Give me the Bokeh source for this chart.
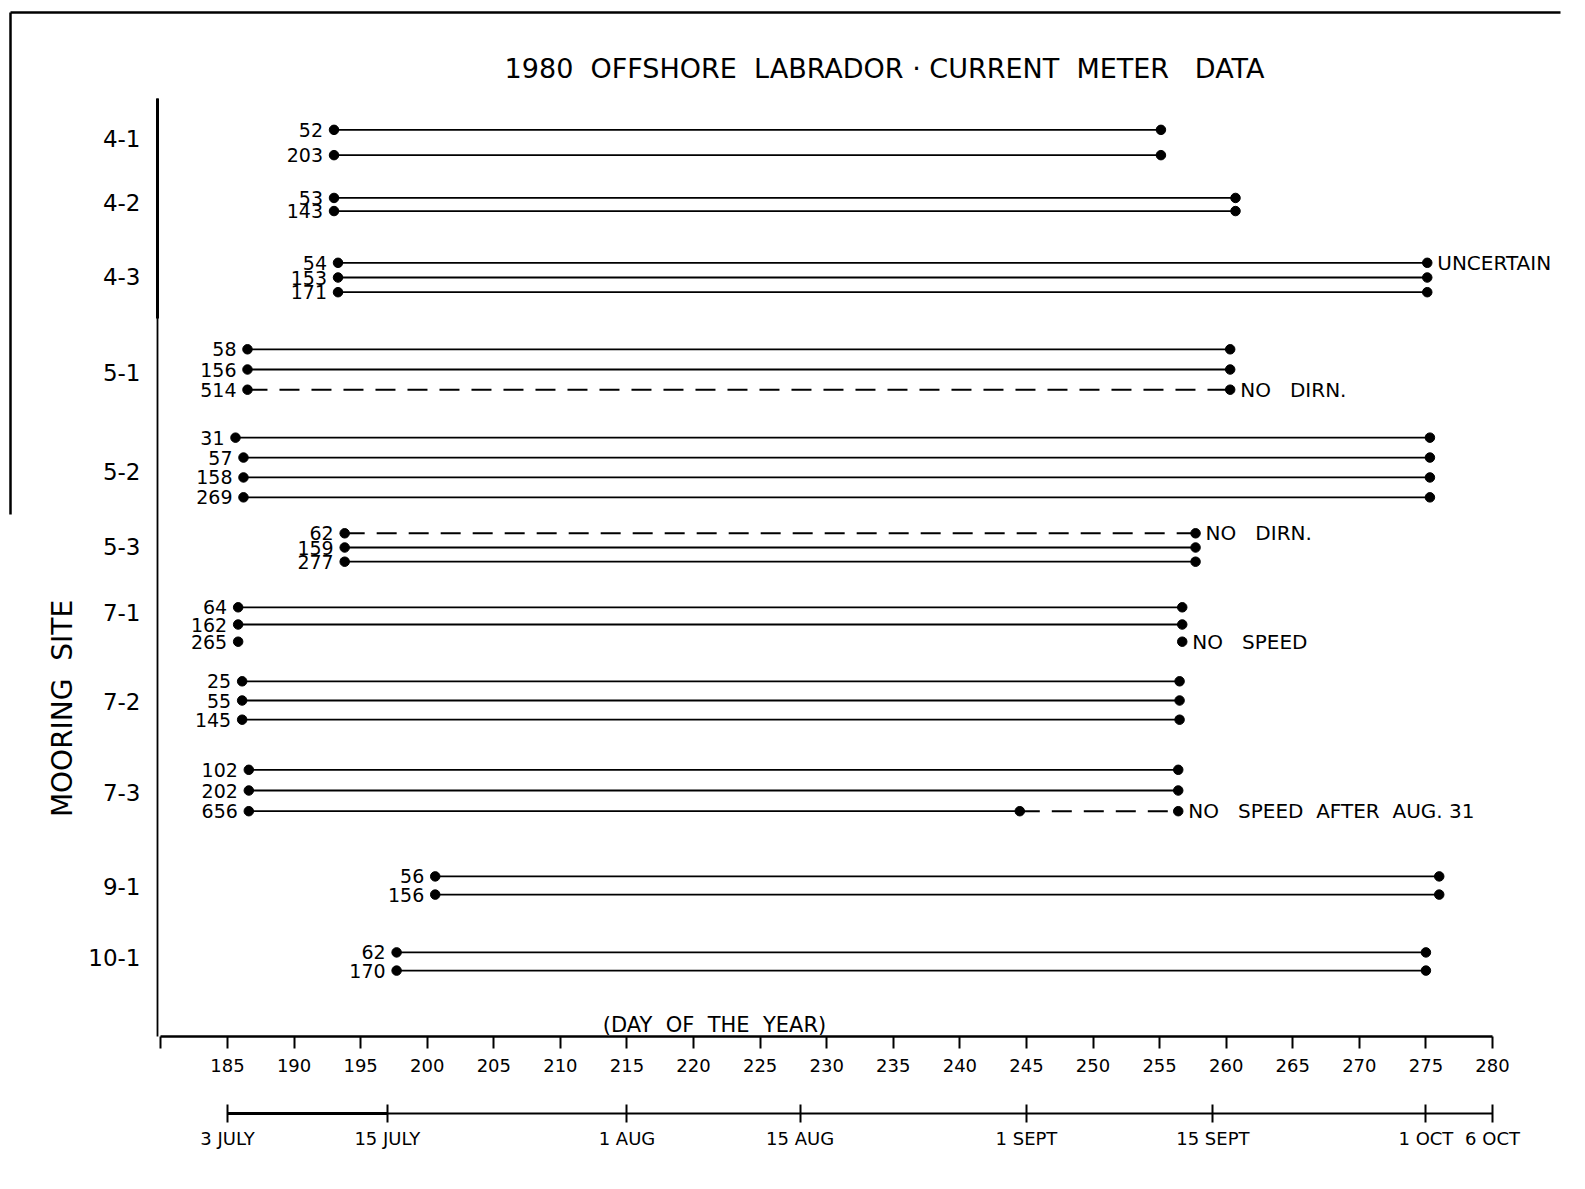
from bokeh.plotting import figure
from bokeh.models import Range1d, LinearAxis, FixedTicker, ColumnDataSource
from bokeh.embed import file_html
from bokeh.resources import INLINE
from bokeh.core.properties import value
import math

# ---------------- data ----------------
sites = ["4-1", "4-2", "4-3", "5-1", "5-2", "5-3", "7-1", "7-2", "7-3", "9-1", "10-1"]

inst_site = ["4-1", "4-1",
             "4-2", "4-2",
             "4-3", "4-3", "4-3",
             "5-1", "5-1", "5-1",
             "5-2", "5-2", "5-2", "5-2",
             "5-3", "5-3", "5-3",
             "7-1", "7-1", "7-1",
             "7-2", "7-2", "7-2",
             "7-3", "7-3", "7-3",
             "9-1", "9-1",
             "10-1", "10-1"]
depth = [52, 203,
         53, 143,
         54, 153, 171,
         58, 156, 514,
         31, 57, 158, 269,
         62, 159, 277,
         64, 162, 265,
         25, 55, 145,
         102, 202, 656,
         56, 156,
         62, 170]
start_day = [193.0, 193.0,
             193.0, 193.0,
             193.3, 193.3, 193.3,
             186.5, 186.5, 186.5,
             185.6, 186.2, 186.2, 186.2,
             193.8, 193.8, 193.8,
             185.8, 185.8, 185.8,
             186.1, 186.1, 186.1,
             186.6, 186.6, 186.6,
             200.6, 200.6,
             197.7, 197.7]
end_day = [255.1, 255.1,
           260.7, 260.7,
           275.1, 275.1, 275.1,
           260.3, 260.3, 260.3,
           275.3, 275.3, 275.3, 275.3,
           257.7, 257.7, 257.7,
           256.7, 256.7, 256.7,
           256.5, 256.5, 256.5,
           256.4, 256.4, 256.4,
           276.0, 276.0,
           275.0, 275.0]
# record quality: full, uncertain, no_dirn (dashed), no_speed (no line), partial (speed lost)
record = ["full", "full",
          "full", "full",
          "uncertain", "full", "full",
          "full", "full", "no_dirn",
          "full", "full", "full", "full",
          "no_dirn", "full", "full",
          "full", "full", "no_speed",
          "full", "full", "full",
          "full", "full", "partial",
          "full", "full",
          "full", "full"]
speed_lost_day = 244.5   # 656 m on 7-3: no speed after Aug. 31

day_ticks = list(range(180, 281, 5))
date_ticks = [185, 197, 215, 228, 245, 259, 275, 280]
date_labels = ["3 JULY", "15 JULY", "1 AUG", "15 AUG", "1 SEPT", "15 SEPT", "1 OCT", "6 OCT"]
NB = "\u00a0 "
NB2 = "\u00a0\u00a0 "
notes = {"uncertain": "UNCERTAIN", "no_dirn": "NO" + NB2 + "DIRN.", "no_speed": "NO" + NB2 + "SPEED",
         "partial": "NO" + NB2 + "SPEED" + NB + "AFTER" + NB + "AUG. 31", "full": ""}

# ---------------- layout (pixel geometry of the sheet) ----------------
W, H = 1569, 1173
PX_PER_DAY = (1492 - 227) / 95.0


def px2day(px):
    return 185 + (px - 227) / PX_PER_DAY


site_center = [142, 204, 277, 369, 467, 547, 624, 700, 790, 885, 961]
site_gap = [25.3, 13.1, 14.7, 20.2, 19.9, 14.2, 17.2, 19.2, 20.7, 18.2, 18.2]
site_label_y = [138, 202, 276, 372, 471, 546, 612, 701, 792, 886, 957]

row_y = []
for s, c, g in zip(sites, site_center, site_gap):
    n = inst_site.count(s)
    for k in range(n):
        row_y.append(c + (k - (n - 1) / 2.0) * g)

FONT_NAME = "DejaVu Sans"
FONT = value(FONT_NAME)

p = figure(width=W, height=H,
           x_range=Range1d(px2day(0), px2day(W)),
           y_range=Range1d(H, 0),
           output_backend="svg", toolbar_location=None,
           x_axis_location=None, y_axis_location=None,
           min_border=0, outline_line_color=None)
p.grid.visible = False
p.background_fill_color = "white"
p.border_fill_color = "white"

# sheet border (scan edge)
p.segment(x0=[px2day(10), px2day(10)], y0=[12, 12], x1=[px2day(1560), px2day(10)], y1=[12, 514],
          line_color="black", line_width=2.5)

# axes
yax = LinearAxis(fixed_location=px2day(157), bounds=(98, 1036),
                 ticker=FixedTicker(ticks=site_label_y, minor_ticks=[]),
                 major_label_overrides={y: s for y, s in zip(site_label_y, sites)},
                 major_tick_out=0, major_tick_in=0, minor_tick_out=0, minor_tick_in=0,
                 major_label_standoff=17, axis_line_width=1.8, axis_line_color="black",
                 major_label_text_font=FONT_NAME, major_label_text_font_size="23px",
                 major_label_text_color="black")
p.add_layout(yax, "left")
p.segment(x0=[px2day(157)], y0=[98], x1=[px2day(157)], y1=[318], line_color="black", line_width=3)

xax = LinearAxis(fixed_location=1036, bounds=(180, 280),
                 ticker=FixedTicker(ticks=day_ticks, minor_ticks=[]),
                 major_label_overrides={180: ""},
                 major_tick_out=12, major_tick_in=0, minor_tick_out=0, minor_tick_in=0,
                 major_tick_line_width=2, major_tick_line_color="black",
                 major_label_standoff=10, axis_line_width=2.5, axis_line_color="black",
                 major_label_text_font=FONT_NAME, major_label_text_font_size="18px",
                 major_label_text_color="black")
p.add_layout(xax, "below")

dax = LinearAxis(fixed_location=1113, bounds=(185, 280),
                 ticker=FixedTicker(ticks=date_ticks, minor_ticks=[]),
                 major_label_overrides={t: l for t, l in zip(date_ticks, date_labels)},
                 major_tick_out=9, major_tick_in=9, minor_tick_out=0, minor_tick_in=0,
                 major_tick_line_width=2, major_tick_line_color="black",
                 major_label_standoff=5, axis_line_width=2, axis_line_color="black",
                 major_label_text_font=FONT_NAME, major_label_text_font_size="18px",
                 major_label_text_color="black")
p.add_layout(dax, "below")
p.segment(x0=[date_ticks[0]], y0=[1113], x1=[date_ticks[1]], y1=[1113], line_color="black", line_width=3.2)

# titles
p.text(x=[px2day(884)], y=[68],
       text=["1980" + NB + "OFFSHORE" + NB + "LABRADOR · CURRENT" + NB + "METER" + NB2 + "DATA"],
       text_font=FONT, text_font_size="27px", text_align="center", text_baseline="middle",
       text_color="black")
p.text(x=[px2day(714)], y=[1024], text=["(DAY" + NB + "OF" + NB + "THE" + NB + "YEAR)"],
       text_font=FONT, text_font_size="21px", text_align="center", text_baseline="middle",
       text_color="black")
p.text(x=[px2day(62)], y=[708], text=["MOORING" + NB + "SITE"], angle=math.pi / 2,
       text_font=FONT, text_font_size="28px", text_align="center", text_baseline="middle",
       text_color="black")

# records
solid_x0, solid_x1, solid_y = [], [], []
dash_x0, dash_x1, dash_y = [], [], []
mid_x, mid_y = [], []
for s0, e0, y, r in zip(start_day, end_day, row_y, record):
    if r in ("full", "uncertain"):
        solid_x0.append(s0); solid_x1.append(e0); solid_y.append(y)
    elif r == "no_dirn":
        dash_x0.append(s0); dash_x1.append(e0); dash_y.append(y)
    elif r == "partial":
        solid_x0.append(s0); solid_x1.append(speed_lost_day); solid_y.append(y)
        dash_x0.append(speed_lost_day); dash_x1.append(e0); dash_y.append(y)
        mid_x.append(speed_lost_day); mid_y.append(y)

p.segment(x0=solid_x0, y0=solid_y, x1=solid_x1, y1=solid_y, line_color="black", line_width=1.8)
p.segment(x0=dash_x0, y0=dash_y, x1=dash_x1, y1=dash_y, line_color="black", line_width=2,
          line_dash="20 12")

src = ColumnDataSource(dict(start=start_day, end=end_day, y=row_y,
                            label=[str(d) for d in depth],
                            note=[notes[r] for r in record]))
p.scatter(x="start", y="y", source=src, size=9.5, color="black")
p.scatter(x="end", y="y", source=src, size=9.5, color="black")
p.scatter(x=mid_x, y=mid_y, size=9.5, color="black")
p.text(x="start", y="y", text="label", source=src, x_offset=-11, text_align="right",
       text_baseline="middle", text_font=FONT, text_font_size="19px", text_color="black")
p.text(x="end", y="y", text="note", source=src, x_offset=10, text_align="left",
       text_baseline="middle", text_font=FONT, text_font_size="20px", text_color="black")

open("out.html", "w").write(file_html(p, INLINE))
